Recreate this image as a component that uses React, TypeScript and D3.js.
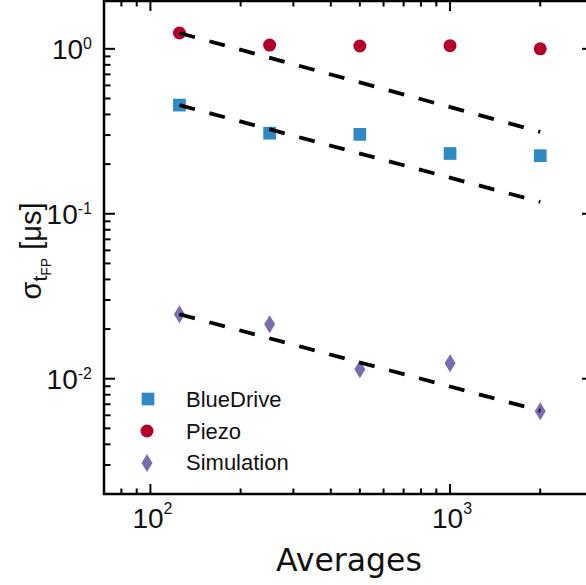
import React from "react";
import * as d3 from "d3";

const averages = [125, 250, 500, 1000, 2000];
const blueDrive = [0.456, 0.308, 0.303, 0.232, 0.225];
const piezo = [1.247, 1.054, 1.04, 1.045, 1.0];
const simulation = [0.0246, 0.0214, 0.01143, 0.01239, 0.00636];

const fitX = [125, 2000];
const fitPiezo = [1.247, 0.314];
const fitBlue = [0.456, 0.118];
const fitSim = [0.0246, 0.0064];

const xMajor = [100, 1000];
const xMajorExp = ["2", "3"];
const yMajor = [0.01, 0.1, 1];
const yMajorExp = ["-2", "-1", "0"];

const legendLabels = ["BlueDrive", "Piezo", "Simulation"];
const colors = { blue: "#2f8ac4", red: "#b5002a", purple: "#7b6bb1" };

const W = 586;
const H = 585;
const left = 104;
const right = 593;
const top = 1;
const bottom = 494;

export default function App() {
  const x = d3.scaleLog().domain([70, 3000]).range([left, right]);
  const y = d3.scaleLog().domain([0.002, 1.95]).range([bottom, top]);

  const xTicks = x.ticks().filter((t) => t >= 70 && t <= 3000);
  const yTicks = y.ticks().filter((t) => t >= 0.002 && t <= 1.95);
  const isMajor = (t: number) => Math.abs(Math.log10(t) - Math.round(Math.log10(t))) < 1e-6;

  const line = d3
    .line<[number, number]>()
    .x((d) => x(d[0]))
    .y((d) => y(d[1]));

  const fits = [fitPiezo, fitBlue, fitSim];

  const sq = 12.7;
  const diamond = (cx: number, cy: number) =>
    `M${cx},${cy - 9}L${cx + 5.5},${cy}L${cx},${cy + 9}L${cx - 5.5},${cy}Z`;

  const majorLen = 10;
  const minorLen = 5.5;

  return (
    <svg
      width={W}
      height={H}
      style={{ position: "absolute", left: 0, top: 0, background: "#fff" }}
      fontFamily="Liberation Sans, Arial, sans-serif"
    >
      <rect x={0} y={0} width={W} height={H} fill="#fff" />
      {/* data markers */}
      {averages.map((a, i) => (
        <rect
          key={"b" + i}
          x={x(a) - sq / 2}
          y={y(blueDrive[i]) - sq / 2}
          width={sq}
          height={sq}
          fill={colors.blue}
        />
      ))}
      {averages.map((a, i) => (
        <circle key={"p" + i} cx={x(a)} cy={y(piezo[i])} r={6.5} fill={colors.red} />
      ))}
      {averages.map((a, i) => (
        <path key={"s" + i} d={diamond(x(a), y(simulation[i]))} fill={colors.purple} />
      ))}
      {/* fit lines */}
      {fits.map((f, i) => (
        <path
          key={"f" + i}
          d={line(fitX.map((v, j) => [v, f[j]] as [number, number])) || ""}
          fill="none"
          stroke="#000"
          strokeWidth={3.8}
          strokeDasharray="16 15"
        />
      ))}
      {/* frame */}
      <rect
        x={left}
        y={top}
        width={right - left}
        height={bottom - top}
        fill="none"
        stroke="#000"
        strokeWidth={2.5}
      />
      {/* x ticks */}
      {xTicks.map((t, i) => {
        const len = isMajor(t) ? majorLen : minorLen;
        return (
          <g key={"xt" + i} stroke="#000" strokeWidth={2}>
            <line x1={x(t)} x2={x(t)} y1={bottom} y2={bottom - len} />
            <line x1={x(t)} x2={x(t)} y1={top} y2={top + len} />
          </g>
        );
      })}
      {/* y ticks */}
      {yTicks.map((t, i) => {
        const len = isMajor(t) ? majorLen + 1 : minorLen + 1;
        return (
          <g key={"yt" + i} stroke="#000" strokeWidth={2}>
            <line x1={left} x2={left + len} y1={y(t)} y2={y(t)} />
            <line x1={right} x2={right - len} y1={y(t)} y2={y(t)} />
          </g>
        );
      })}
      {/* x labels */}
      {xMajor.map((t, i) => (
        <text key={"xl" + i} x={x(t) + 2} y={528} fontSize={28} textAnchor="middle" fill="#111">
          10
          <tspan dy={-14} fontSize={16}>
            {xMajorExp[i]}
          </tspan>
        </text>
      ))}
      {/* y labels */}
      {yMajor.map((t, i) => (
        <text key={"yl" + i} x={92} y={y(t) + 10} fontSize={28} textAnchor="end" fill="#111">
          10
          <tspan dy={-10} fontSize={16}>
            {yMajorExp[i]}
          </tspan>
        </text>
      ))}
      {/* axis titles */}
      <text
        x={349}
        y={571}
        fontSize={31.5}
        textAnchor="middle"
        fontFamily="DejaVu Sans, sans-serif"
        fill="#111"
      >
        Averages
      </text>
      <text
        transform={`translate(41,251) rotate(-90)`}
        textAnchor="middle"
        fontSize={29}
        fill="#111"
      >
        σ
        <tspan fontSize={21} dy={6}>
          t
        </tspan>
        <tspan fontSize={14} dy={4}>
          FP
        </tspan>
        <tspan dy={-10}> [μs]</tspan>
      </text>
      {/* legend */}
      <rect x={148 - sq / 2} y={399 - sq / 2} width={sq} height={sq} fill={colors.blue} />
      <circle cx={147} cy={431} r={6.5} fill={colors.red} />
      <path d={diamond(147, 463)} fill={colors.purple} />
      {legendLabels.map((l, i) => (
        <text key={"lg" + i} x={186} y={407 + i * 31.5} fontSize={22} fill="#111">
          {l}
        </text>
      ))}
    </svg>
  );
}
